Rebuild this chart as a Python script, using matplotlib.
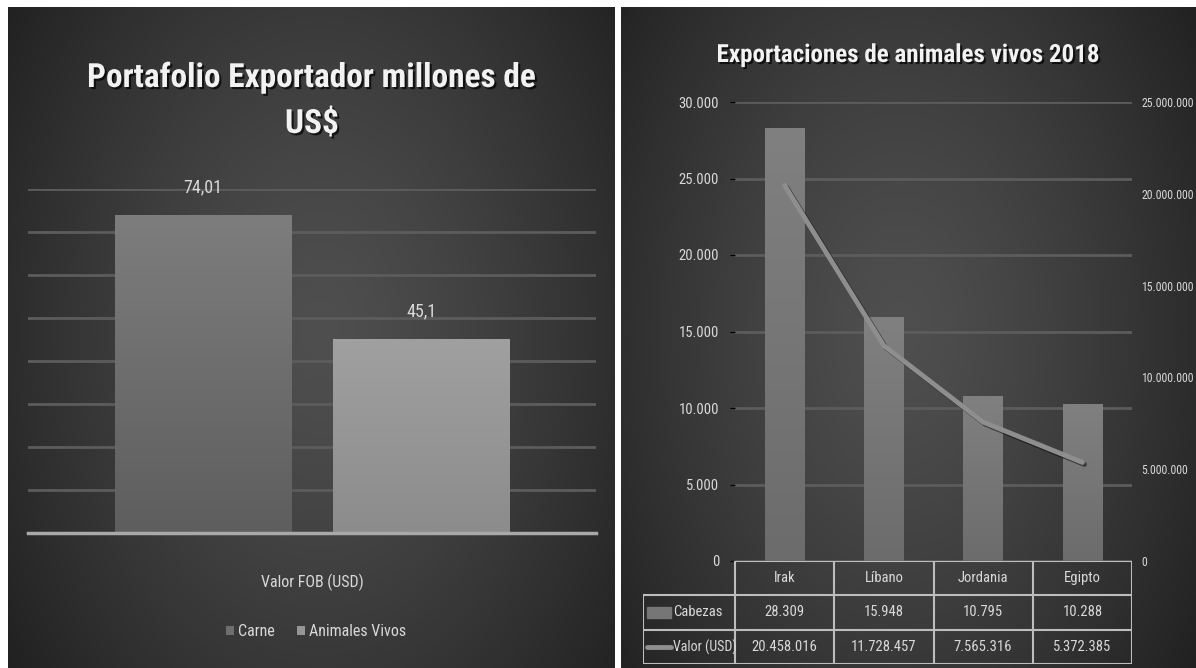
import numpy as np
import matplotlib
matplotlib.use('Agg')
import matplotlib.pyplot as plt
from matplotlib import font_manager
from matplotlib import patheffects as pe
from matplotlib.patches import Rectangle

# datos
portafolio_cats = ['Carne', 'Animales Vivos']
portafolio_vals = [74.01, 45.1]
portafolio_xlabel = 'Valor FOB (USD)'

paises = ['Irak', 'Líbano', 'Jordania', 'Egipto']
cabezas = [28309, 15948, 10795, 10288]
valor_usd = [20458016, 11728457, 7565316, 5372385]

W, H = 1196, 668


def pick(*names):
    avail = {f.name for f in font_manager.fontManager.ttflist}
    for n in names:
        if n in avail:
            return n
    return 'DejaVu Sans'


font_lab = pick('Liberation Sans Narrow', 'Roboto Condensed', 'Open Sans Condensed', 'Lato')
font_tit = pick('Liberation Sans Narrow', 'Roboto Condensed', 'Lato')
plt.rcParams['font.family'] = [font_lab, 'DejaVu Sans']


def fx(px):
    return px / W


def fy(py):
    return 1 - py / H


def miles(v):
    return f'{v:,}'.replace(',', '.')


fig = plt.figure(figsize=(W / 100, H / 100), dpi=100)
fig.patch.set_facecolor('white')

# fondo con degradado para cada panel
yy, xx = np.mgrid[0:H, 0:W]
img = np.ones((H, W))
for (x0, y0, x1, y1, cx) in [(8, 7, 615, 668, 320), (621, 7, 1196, 668, 900)]:
    m = (xx >= x0) & (xx < x1) & (yy >= y0) & (yy < y1)
    d = np.sqrt(((xx - cx) / ((x1 - x0) * 0.55)) ** 2 + ((yy - 330) / ((y1 - y0) * 0.75)) ** 2)
    val = np.clip(0.31 - 0.15 * d ** 1.3, 0.12, 1)
    img[m] = val[m]
bg = fig.add_axes([0, 0, 1, 1], zorder=-10)
bg.imshow(np.dstack([img] * 3), extent=(0, W, H, 0), aspect='auto', interpolation='bilinear')
bg.axis('off')

txt_col = '#d9d9d9'
grid_col = '#5c5c5c'
shadow = [pe.SimplePatchShadow(offset=(1.5, -1.5), shadow_rgbFace='black', alpha=0.7), pe.Normal()]


def gradient_bar(ax, bar, top, bottom):
    x, y = bar.get_x(), bar.get_y()
    w, h = bar.get_width(), bar.get_height()
    g = np.linspace(0, 1, 64)[:, None]
    c0 = np.array(matplotlib.colors.to_rgb(top))
    c1 = np.array(matplotlib.colors.to_rgb(bottom))
    arr = c0 + (c1 - c0) * g[:, :, None]
    arr = np.repeat(arr, 2, axis=1)
    im = ax.imshow(arr, extent=(x, x + w, y, y + h), aspect='auto', zorder=bar.get_zorder() + 0.1,
                   interpolation='bilinear', origin='upper')
    im.set_clip_path(bar)


# ---- panel izquierdo ----
axL = fig.add_axes([fx(28), fy(533), fx(596) - fx(28), fy(189) - fy(533)])
axL.patch.set_alpha(0)
bw, gap = 0.31, 0.074
pos = [-(bw + gap) / 2, (bw + gap) / 2]
cols_top = ['#7d7d7d', '#a0a0a0']
cols_bot = ['#5e5e5e', '#8c8c8c']
cols_mid = ['#6e6e6e', '#969696']
bars = axL.bar(pos, portafolio_vals, width=bw, color=cols_mid, zorder=2)
for b, t, bt in zip(bars, cols_top, cols_bot):
    gradient_bar(axL, b, t, bt)
for b, v in zip(bars, portafolio_vals):
    axL.annotate(str(v).replace('.', ','), (b.get_x() + b.get_width() / 2, v),
                 xytext=(0, 20), textcoords='offset points', ha='center', va='center',
                 color=txt_col, fontsize=13)
axL.set_xlim(-0.5, 0.5)
axL.set_ylim(0, 80)
axL.set_yticks(range(0, 81, 10))
axL.yaxis.grid(True, color=grid_col, lw=2)
axL.set_axisbelow(True)
axL.tick_params(left=False, labelleft=False, bottom=False, pad=26, labelsize=11.5, labelcolor=txt_col)
axL.set_xticks([0])
axL.set_xticklabels([portafolio_xlabel])
for s in ['top', 'left', 'right']:
    axL.spines[s].set_visible(False)
axL.spines['bottom'].set_color('#a9a9a9')
axL.spines['bottom'].set_linewidth(2.5)
axL.spines['bottom'].set_zorder(3)
fig.legend(bars, portafolio_cats, loc='center', bbox_to_anchor=(fx(316), fy(632)), ncol=2,
           frameon=False, fontsize=11.5, handlelength=0.5, handleheight=0.5, columnspacing=1.4,
           handletextpad=0.25, labelcolor=txt_col)
fig.text(fx(312), fy(78), 'Portafolio Exportador millones de', ha='center', va='center',
         fontsize=24, fontweight='bold', color='#f2f2f2', family=font_tit, path_effects=shadow)
fig.text(fx(312), fy(124), 'US$', ha='center', va='center',
         fontsize=24, fontweight='bold', color='#f2f2f2', family=font_tit, path_effects=shadow)

# ---- panel derecho ----
axR = fig.add_axes([fx(735), fy(561), fx(1132) - fx(735), fy(102) - fy(561)])
axR.patch.set_alpha(0)
x = np.arange(len(paises))
rb = axR.bar(x, cabezas, width=0.40, color='#767676', zorder=2)
for b in rb:
    gradient_bar(axR, b, '#808080', '#6c6c6c')
axR.set_xlim(-0.5, 3.5)
axR.set_ylim(0, 30000)
axR.set_yticks(range(0, 30001, 5000))
axR.set_yticklabels([miles(v) for v in range(0, 30001, 5000)])
axR.yaxis.grid(True, color=grid_col, lw=2)
axR.set_axisbelow(True)
axR.set_xticks([])
axR.tick_params(left=False, pad=8, labelsize=10.5, labelcolor=txt_col)
for s in axR.spines.values():
    s.set_visible(False)

axR2 = axR.twinx()
axR2.plot(x, valor_usd, color='#8e8e8e', lw=3.5, solid_capstyle='round', zorder=5,
          path_effects=[pe.SimpleLineShadow(offset=(1.5, -1.5), shadow_color='black', alpha=0.5), pe.Normal()])
axR2.set_ylim(0, 25000000)
axR2.set_yticks(range(0, 25000001, 5000000))
axR2.set_yticklabels([miles(v) for v in range(0, 25000001, 5000000)])
axR2.tick_params(right=False, pad=3, labelsize=8.5, labelcolor=txt_col)
for s in axR2.spines.values():
    s.set_visible(False)

fig.text(fx(908), fy(55), 'Exportaciones de animales vivos 2018', ha='center', va='center',
         fontsize=18, fontweight='bold', color='#f2f2f2', family=font_tit, path_effects=shadow)

# tabla de datos
lab_w = (735 - 643) / ((1132 - 735) / 4)
tax = fig.add_axes([fx(643), fy(664), fx(1132) - fx(643), fy(561) - fy(664)])
tax.set_xlim(-lab_w, 4)
tax.set_ylim(0, 3)
tax.axis('off')
lc = '#bdbdbd'
tax.plot([0, 4], [3, 3], color=lc, lw=1.5)
for yv in [2, 1, 0]:
    tax.plot([-lab_w, 4], [yv, yv], color=lc, lw=1.5)
for xv in range(5):
    tax.plot([xv, xv], [0, 3], color=lc, lw=1.5)
tax.plot([-lab_w, -lab_w], [0, 2], color=lc, lw=1.5)
for i, p in enumerate(paises):
    tax.text(i + 0.5, 2.5, p, ha='center', va='center', color=txt_col, fontsize=10.5)
    tax.text(i + 0.5, 1.5, miles(cabezas[i]), ha='center', va='center', color=txt_col, fontsize=10.5)
    tax.text(i + 0.5, 0.5, miles(valor_usd[i]), ha='center', va='center', color=txt_col, fontsize=10.5)
sw = 24 / ((1132 - 735) / 4)
tax.add_patch(Rectangle((-lab_w + 0.04, 1.35), sw, 0.3, color='#767676'))
tax.plot([-lab_w + 0.04, -lab_w + 0.04 + sw], [0.5, 0.5], color='#8e8e8e', lw=3.5, solid_capstyle='round')
tax.text(-lab_w + 0.06 + sw, 1.5, 'Cabezas', ha='left', va='center', color=txt_col, fontsize=10.5)
tax.text(-lab_w + 0.06 + sw, 0.5, 'Valor (USD)', ha='left', va='center', color=txt_col, fontsize=10)

fig.savefig('out.png', dpi=100, facecolor=fig.get_facecolor())
